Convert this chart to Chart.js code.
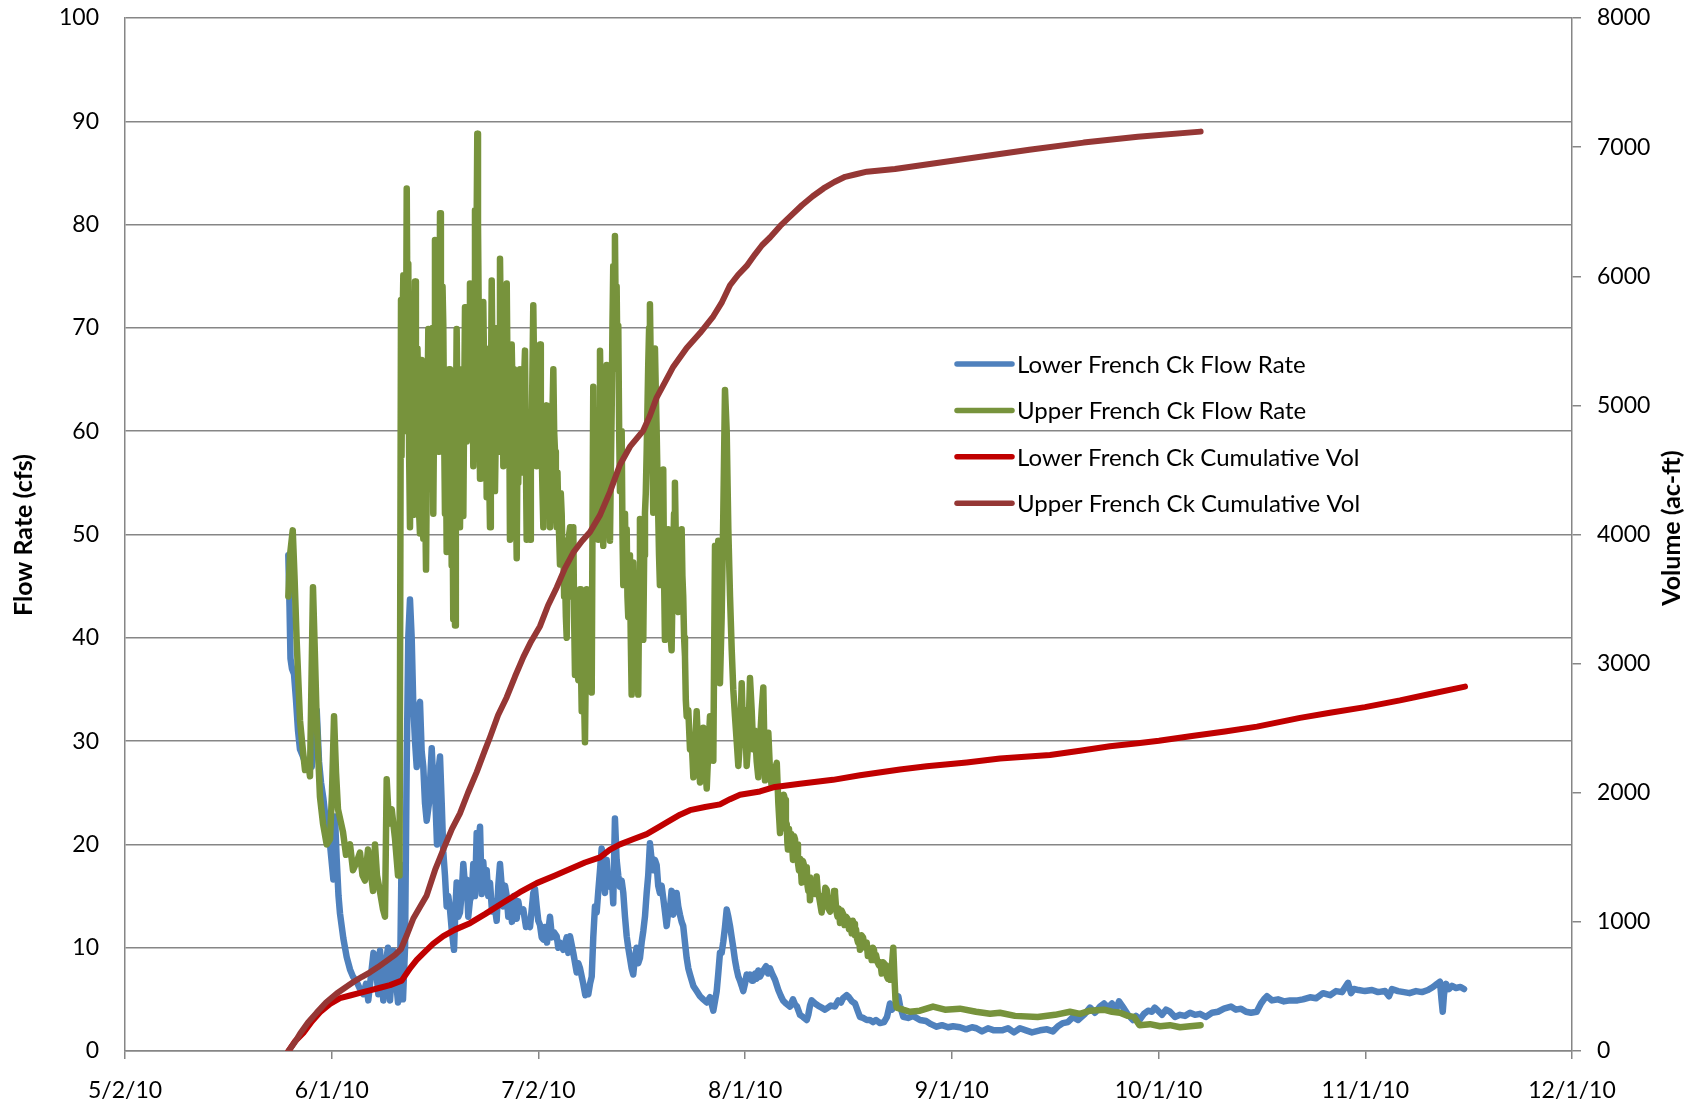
<!DOCTYPE html>
<html>
<head>
<meta charset="utf-8">
<title>French Creek Flow Rate and Cumulative Volume, 2010</title>
<script src="https://cdn.jsdelivr.net/npm/chart.js@4.4.1/dist/chart.umd.min.js"></script>
<style>
  html, body { margin: 0; padding: 0; background: #ffffff; }
  #wrap { width: 1699px; height: 1111px; position: relative; }
</style>
</head>
<body>
<div id="wrap"><canvas id="chart" width="1699" height="1111"></canvas></div>
<script>
// Date axis: days since 5/2/10, labelled every 213/7 days
const xTickLabels = ['5/2/10', '6/1/10', '7/2/10', '8/1/10', '9/1/10', '10/1/10', '11/1/10', '12/1/10'];
const xMaxDays = 213;

const seriesNames = [
  'Lower French Ck Flow Rate',
  'Upper French Ck Flow Rate',
  'Lower French Ck Cumulative Vol',
  'Upper French Ck Cumulative Vol'
];

// Lower French Ck flow rate, [day, cfs]
const lowerFlow = [
  [24.04,48],[24.22,43],[24.36,38],[24.58,37],[24.88,36.5],[25.17,34],[25.47,31],[25.76,29.2],[26.20,28.5],[26.75,27.5],
  [27.08,28],[27.48,27.5],[27.82,31],[28.22,33],[28.56,28],[28.85,26],[29.19,24.5],[29.69,21.5],[30.18,20],[30.67,16.6],
  [30.91,22.7],[31.16,18.6],[31.43,15],[31.65,13.3],[32.14,10.9],[32.63,9.1],[33.12,7.9],[33.56,7.2],[34.11,6.7],[34.59,6],
  [35.08,5.5],[35.48,6.5],[35.81,4.9],[36.31,7.9],[36.58,9.5],[36.80,9.1],[37.29,5.5],[37.54,9.7],[38.02,4.9],[38.52,9.1],
  [38.71,10],[39.01,4.9],[39.49,9.7],[39.99,6.1],[40.19,4.7],[40.48,6.7],[40.70,18],[40.92,5],[41.22,10],[41.47,28],
  [41.70,40],[41.95,43.7],[42.20,40],[42.44,33.4],[42.69,30],[42.94,27.5],[43.17,33],[43.42,33.8],[43.67,29],[43.91,27.5],
  [44.16,24],[44.41,22.3],[44.75,24],[45.15,29.3],[45.38,26],[45.63,25.3],[45.93,20],[46.12,27],[46.37,28.5],[46.62,24],
  [46.85,19.3],[47.10,17],[47.35,14],[47.59,15],[47.84,13.7],[48.13,11.5],[48.43,9.8],[48.65,14],[48.82,16.3],[49.06,13],
  [49.31,13.4],[49.56,15.3],[49.80,18.1],[50.05,16],[50.30,16.6],[50.53,13],[50.78,14.6],[51.03,15],[51.27,18.1],[51.52,15],
  [51.77,21.1],[52.01,20],[52.26,21.7],[52.51,15.2],[52.74,18.3],[52.99,16],[53.24,17.5],[53.48,15],[53.73,16.3],[54.03,13.5],
  [54.32,14.5],[54.71,12.6],[54.95,16],[55.20,18.1],[55.45,16],[55.69,14],[55.94,16],[56.19,15],[56.42,13],[56.67,14.5],
  [56.96,12.5],[57.26,15],[57.66,12.8],[57.89,14.5],[58.14,13.5],[58.63,13.7],[59.03,12],[59.37,12.5],[59.62,12],[60.10,15.3],
  [60.35,15.7],[60.60,14],[60.84,12.6],[61.09,12.2],[61.34,11],[61.58,10.8],[61.82,12],[62.12,10.5],[62.56,13],[62.85,11],
  [63.15,11.5],[63.55,11.1],[63.78,10],[64.03,10.5],[64.52,9.8],[65.02,11],[65.26,9.5],[65.51,11.1],[65.99,9.5],[66.49,7.6],
  [66.73,8.5],[66.98,8],[67.46,6.5],[67.76,5.4],[67.96,5.7],[68.20,5.5],[68.45,6.5],[68.70,7.2],[68.93,11],[69.18,14],
  [69.43,13.4],[69.67,15.5],[69.92,17.5],[70.17,19.6],[70.40,18.7],[70.65,15.3],[70.90,18.5],[71.14,16],[71.39,15.9],[71.64,17],
  [71.87,14.3],[72.12,22.5],[72.37,18.5],[72.61,17],[72.86,15.9],[73.11,16.5],[73.35,15.3],[73.60,13],[73.85,11.1],[74.08,10],
  [74.33,9],[74.58,8],[74.81,7.4],[75.06,9],[75.31,10],[75.55,8.5],[75.80,9],[76.05,10.5],[76.29,11.6],[76.54,13],
  [76.79,15.3],[77.02,17],[77.27,20.1],[77.52,18.5],[77.76,17.5],[78.01,18.5],[78.26,18],[78.49,16],[78.74,15.3],[78.99,16],
  [79.23,14.8],[79.48,13.5],[79.73,12.1],[79.96,13.5],[80.21,13.7],[80.46,15.5],[80.70,13.2],[80.95,14],[81.20,15.3],[81.44,14],
  [81.69,13.2],[81.94,12.5],[82.17,12.1],[82.43,10.5],[82.68,9],[82.92,8],[83.17,7.4],[83.66,6.3],[84.15,5.8],[84.64,5.3],
  [85.12,5],[85.63,4.7],[86.11,5.2],[86.60,3.9],[87.10,5.8],[87.33,7.5],[87.58,9.5],[87.83,9.5],[88.07,10.6],[88.32,12],
  [88.57,13.7],[88.81,13],[89.06,12.1],[89.31,11],[89.54,10],[89.79,8.8],[90.04,7.9],[90.28,7.2],[90.53,6.8],[90.78,6.3],
  [91.01,5.8],[91.26,6.5],[91.51,7.4],[91.75,7],[92.00,7.4],[92.25,6.8],[92.48,6.8],[92.74,7.5],[92.99,7],[93.22,7.8],
  [93.47,7.2],[93.96,7.8],[94.36,8.2],[94.66,7.5],[94.95,8],[95.24,7.5],[95.68,6.9],[96.17,5.9],[96.56,5.3],[96.86,4.9],
  [97.30,4.6],[97.89,4.3],[98.33,5],[98.63,4.5],[98.92,4.3],[99.36,3.5],[99.80,3.3],[100.35,3.0],[100.58,3.5],[100.83,4.4],
  [101.08,4.9],[101.57,4.6],[102.01,4.4],[102.55,4.2],[103.04,4.0],[103.48,4.2],[103.92,4.4],[104.51,4.3],[105.00,4.9],[105.40,4.7],
  [105.69,5.1],[106.23,5.4],[106.57,5.2],[107.01,4.8],[107.46,4.6],[107.90,3.8],[108.19,3.3],[108.64,3.2],[109.18,3.0],[109.66,3.0],
  [110.11,2.8],[110.55,3.0],[111.14,2.7],[111.73,2.8],[112.17,3.3],[112.61,4.6],[112.91,4.0],[113.20,4.4],[113.49,4.6],[113.83,5.3],
  [114.08,4.4],[114.57,3.3],[115.26,3.2],[115.99,3.4],[117.02,3.0],[117.91,2.9],[118.64,2.6],[119.48,2.35],[120.26,2.5],[121.15,2.3],
  [121.88,2.4],[122.91,2.3],[123.80,2.1],[124.68,2.3],[125.33,2.2],[126.15,1.9],[127.03,2.2],[127.92,2.0],[129.09,2.0],[129.98,2.2],
  [130.86,1.8],[131.74,2.2],[132.63,2.0],[133.51,1.8],[134.69,2.0],[135.72,2.1],[136.59,1.9],[137.34,2.4],[138.07,2.7],[138.81,2.8],
  [139.55,3.3],[140.28,3.0],[141.31,3.6],[142.05,4.2],[142.78,3.7],[143.52,4.3],[144.11,4.6],[144.70,4.2],[145.29,4.6],[145.88,4.0],
  [146.32,4.8],[147.06,4.1],[147.64,3.5],[148.38,3.0],[148.82,3.4],[149.33,3.0],[149.99,3.6],[150.59,3.9],[151.17,3.8],[151.58,4.2],
  [152.06,3.9],[152.65,3.5],[153.24,4.0],[153.82,3.8],[154.56,3.3],[155.30,3.5],[156.03,3.4],[156.77,3.7],[157.50,3.5],[158.24,3.6],
  [159.08,3.3],[160.01,3.7],[160.89,3.8],[161.77,4.1],[162.80,4.3],[163.54,4.0],[164.28,4.1],[165.01,3.8],[165.75,3.7],[166.59,3.8],
  [167.22,4.6],[167.66,5.0],[168.10,5.3],[168.84,4.9],[169.72,5.0],[170.60,4.8],[171.49,4.9],[172.59,4.9],[173.40,5.0],[174.43,5.2],
  [175.32,5.1],[176.35,5.6],[177.38,5.4],[178.26,5.8],[179.14,5.7],[180.03,6.6],[180.47,5.6],[180.91,6.0],[181.59,5.9],[182.53,5.8],
  [183.56,5.9],[184.44,5.7],[185.47,5.8],[186.06,5.3],[186.50,6.0],[187.39,5.8],[188.27,5.7],[189.09,5.6],[190.04,5.8],[190.92,5.7],
  [191.80,5.9],[192.54,6.2],[193.13,6.5],[193.57,6.7],[193.79,5.0],[193.97,3.8],[194.16,5.5],[194.46,6.5],[194.90,6.0],[195.34,6.3],
  [195.93,6.1],[196.59,6.2],[197.10,6.0]
];

// Upper French Ck flow rate, [day, cfs]
const upperFlow = [
  [24.04,44],[24.29,48],[24.69,50.4],[24.95,46],[25.27,39.7],[25.76,32],[26.20,29],[26.50,27.2],[26.94,28],[27.23,26.6],
  [27.67,44.9],[27.97,38],[28.22,32],[28.70,24.6],[29.15,22],[29.69,20],[30.18,20.5],[30.47,25],[30.77,32.4],[31.06,27],
  [31.35,23.4],[32.09,21.2],[32.53,19],[33.12,20],[33.56,17.5],[34.11,18.3],[34.59,19.2],[34.96,17],[35.33,16.5],[35.77,19.5],
  [36.06,18],[36.51,15.5],[36.80,20],[37.09,17],[37.54,15.4],[37.98,13.7],[38.27,13],[38.52,26.3],[38.86,22],[39.26,23.4],
  [39.74,20.6],[40.19,17],[40.41,17],
  [40.63,72.7],[40.68,58],[40.73,57.6],[40.85,70],[40.97,75.1],[41.10,60],[41.22,72],[41.35,64],[41.47,83.5],[41.58,70],
  [41.70,76.2],[41.82,58],[41.95,50.7],[42.08,62],[42.20,69.9],[42.32,56],[42.44,51.9],[42.57,66],[42.69,74.5],[42.82,60],
  [42.94,55.4],[43.05,68],[43.17,64],[43.30,52],[43.42,50.1],[43.55,60],[43.67,66.9],[43.79,54],[43.91,49.6],[44.10,58],
  [44.31,46.6],[44.48,60],[44.65,69.9],[44.78,58],[44.90,55],[45.02,66],[45.15,61.2],[45.26,70],[45.38,52],[45.50,62],
  [45.63,78.5],[45.78,64],[45.93,60],[46.04,72],[46.15,70],[46.26,58],[46.37,81.1],[46.50,68],[46.62,65],[46.74,74],
  [46.85,70.4],[46.98,60],[47.10,52],[47.22,62],[47.35,48.3],[47.47,62],[47.59,58],[47.72,66],[47.84,54.2],[47.96,60],
  [48.09,47],[48.20,55],[48.32,41.8],[48.45,50],[48.58,41.2],[48.70,60],[48.82,69.9],[48.94,62],[49.06,58],[49.18,66],
  [49.31,50.7],[49.43,58],[49.56,64],[49.68,56],[49.80,51.8],[49.92,62],[50.05,72],[50.17,64],[50.30,59],[50.41,70],
  [50.53,66],[50.65,60],[50.78,74.3],[50.90,66],[51.03,62],[51.15,70],[51.27,56.6],[51.40,66],[51.52,81.4],[51.69,74],
  [51.86,88.8],[51.96,80],[52.06,72],[52.16,62],[52.26,55.4],[52.38,66],[52.51,64],[52.62,58],[52.74,72.5],[52.86,66],
  [52.99,60],[53.11,68],[53.24,53.6],[53.36,60],[53.48,62],[53.60,56],[53.73,50.7],[53.85,62],[53.98,74.6],[54.10,66],
  [54.21,62],[54.33,70],[54.46,54.2],[54.58,60],[54.71,65],[54.83,60],[54.95,58],[55.07,66],[55.20,76.7],[55.32,70],
  [55.45,64],[55.57,72],[55.69,56.6],[55.81,64],[55.94,62],[56.06,68],[56.19,74.3],[56.30,66],[56.42,60],[56.54,64],
  [56.67,49.5],[56.80,58],[56.92,68.4],[57.04,64],[57.16,58],[57.28,66],[57.41,62],[57.53,54],[57.66,47.7],[57.77,58],
  [57.89,55],[58.01,62],[58.14,66],[58.32,60],[58.51,56],[58.70,64],[58.88,67.8],[59.00,58],[59.13,49.5],[59.25,56],
  [59.37,58],[59.50,54],[59.62,49.5],[59.74,56],[59.87,60],[59.98,66],[60.10,72.2],[60.22,66],[60.35,62],[60.47,68],
  [60.60,56.6],[60.72,62],[60.84,60],[60.96,64],[61.09,68.4],[61.21,62],[61.34,58],[61.46,54],[61.58,50.7],[61.70,60],
  [61.82,56],[61.94,60],[62.07,62.5],[62.19,58],[62.31,55],[62.43,60],[62.56,50.7],[62.68,54],[62.81,58],[62.93,62],
  [63.05,66],[63.17,60],[63.30,58],[63.42,54],[63.55,50.7],[63.66,56],[63.78,52],[63.90,50],[64.03,47.1],[64.15,54],
  [64.28,52],[64.40,48],[64.52,49.5],[64.64,44],[64.77,46],[64.90,42],[65.02,40],[65.14,48],[65.26,45],[65.38,50],
  [65.51,50.7],[65.63,44],[65.75,46],[65.87,48],[65.99,50.7],[66.11,42],[66.24,36.4],[66.36,44],[66.49,42],[66.61,38],
  [66.73,35.9],[66.85,40],[66.98,44.7],[67.10,38],[67.23,32.9],[67.35,40],[67.46,38],[67.58,34],[67.71,29.9],[67.84,38],
  [67.96,44.7],[68.08,40],[68.20,38],[68.32,44],[68.45,42],[68.57,38],[68.70,34.7],[68.81,50],[68.93,64.3],[69.05,56],
  [69.18,55],[69.30,62],[69.43,60],[69.55,54],[69.67,49.5],[69.80,60],[69.92,67.8],[70.04,62],[70.17,58],[70.28,52],
  [70.40,48.9],[70.52,54],[70.65,58],[70.78,62],[70.90,66.4],[71.02,60],[71.14,55],[71.26,52],[71.39,49.4],[71.51,56],
  [71.64,62],[71.75,70],[71.87,76],[72.00,72],[72.12,78.9],[72.25,70],[72.37,74],[72.49,66],[72.61,70.2],[72.74,60],
  [72.86,54.2],[72.98,58],[73.11,60],[73.23,50],[73.35,45.1],[73.47,50],[73.60,52],[73.72,46],[73.85,50.5],[73.96,44],
  [74.08,42],[74.20,48],[74.33,46],[74.45,40],[74.58,34.5],[74.70,42],[74.81,47.3],[74.94,44],[75.06,42],[75.18,40],
  [75.31,37.2],[75.43,40],[75.55,34.5],[75.68,44],[75.80,51.5],[75.92,48],[76.05,45],[76.17,42],[76.29,39.8],[76.42,48],
  [76.54,52.1],[76.66,54],[76.79,58],[76.90,62],[77.02,66.4],[77.15,70],[77.27,72.3],[77.40,66],[77.52,62],[77.64,58],
  [77.76,52.1],[77.89,62],[78.01,68],[78.13,64],[78.26,60],[78.37,56],[78.49,52],[78.61,48],[78.74,45.1],[78.86,48],
  [78.99,50],[79.11,54],[79.23,56.3],[79.35,46],[79.48,39.8],[79.60,44],[79.73,46],[79.84,48],[79.96,50.5],[80.08,46],
  [80.21,44],[80.33,40],[80.46,38.8],[80.58,44],[80.70,48],[80.82,52],[80.95,55],[81.07,50],[81.20,48],[81.32,44],
  [81.44,42.5],[81.56,44],[81.69,46],[81.81,48],[81.94,50.5],[82.05,46],[82.17,44],[82.30,40],[82.43,38.2],[82.55,34],
  [82.68,32.4],[82.92,33],[83.17,29.2],[83.42,30],[83.66,26.5],[83.90,29],[84.15,32.9],[84.39,29],[84.64,26],[84.89,28],
  [85.12,31.3],[85.37,28],[85.63,25.4],[85.86,29],[86.11,32.4],[86.36,30],[86.60,28.1],[86.85,48.9],[87.10,45],[87.33,49.4],
  [87.58,35.6],[87.83,42],[88.07,52],[88.32,64],[88.57,60],[88.81,50.5],[89.06,44],[89.31,38.8],[89.54,35],[89.79,32.4],
  [90.04,30],[90.28,27.6],[90.53,30],[90.78,35.6],[91.01,30],[91.26,33],[91.51,27.6],[91.75,30],[92.00,36.1],[92.25,33],
  [92.48,29.2],[92.74,31],[92.99,28],[93.22,26.5],[93.47,30],[93.72,33],[93.96,35.2],[94.21,26.2],[94.46,28],[94.70,30.8],
  [94.95,27],[95.20,25.6],[95.54,27],[95.94,27.9],
  [96.17,24],[96.30,22.5],[96.42,21.1],[96.60,23.5],[96.79,22],[96.98,24.8],[97.16,24.3],[97.28,21.5],[97.41,22],[97.50,20.2],
  [97.59,19.5],[97.74,21.5],[97.89,20],[98.10,21],[98.33,18.5],[98.48,20.8],[98.63,20.5],[98.78,18.8],[98.92,20],[99.06,18.2],
  [99.21,17.5],[99.41,18.6],[99.61,16.3],[99.78,18.4],[99.95,18],[100.15,16.5],[100.35,17.8],[100.47,16],[100.58,15.5],[100.70,16.8],
  [100.83,14.6],[101.07,16.4],[101.32,16],[101.56,15.2],[101.81,16.9],[101.98,15.3],[102.15,15],[102.35,14.2],[102.55,13.4],[102.72,15],
  [102.89,14.5],[103.09,15.8],[103.29,15.6],[103.53,13.8],[103.78,13.5],[104.00,14.8],[104.22,14],[104.37,15.5],[104.51,15.3],[104.70,13.6],
  [104.88,13],[105.06,13.8],[105.25,12.4],[105.47,13.6],[105.69,13.3],[105.91,12.2],[106.13,13],[106.35,12.8],[106.57,11.8],[106.77,12.4],
  [106.97,11.4],[107.14,12.6],[107.31,12.3],[107.45,11.2],[107.60,11.8],[107.75,10.9],[107.90,10.5],[108.05,10.9],[108.19,9.8],[108.42,11.2],
  [108.64,11],[108.91,10],[109.18,10.5],[109.35,9.2],[109.52,9.5],[109.72,9.8],[109.91,8.8],[110.08,10],[110.25,9.8],[110.40,8.8],
  [110.55,9.3],[110.77,8.6],[110.99,8.3],[111.19,8.6],[111.39,7.5],[111.56,8.6],[111.73,8.5],[111.88,7.6],[112.02,8.3],[112.16,7.2],
  [112.31,7],[112.46,7.6],[112.61,6.9],[112.86,8],[113.09,10],[113.27,7],[113.42,4.9],[113.59,4.2],[114.52,4.0],[115.55,3.8],
  [117.02,3.9],[118.94,4.3],[120.70,4.0],[122.91,4.1],[125.27,3.8],[127.33,3.6],[128.80,3.7],[131.01,3.4],[134.34,3.3],[136.90,3.5],
  [139.10,3.8],[140.58,3.6],[142.05,3.9],[144.08,4.0],[145.29,3.8],[146.46,3.7],[147.64,3.4],[148.52,3.3],[149.33,2.5],[150.88,2.6],
  [152.35,2.4],[153.82,2.5],[155.30,2.3],[156.77,2.4],[158.33,2.5]
];

// Lower French Ck cumulative volume, [day, ac-ft]
const lowerVolume = [
  [24.07,0],[25.02,75],[26.25,140],[27.53,230],[28.70,300],[30.18,365],[31.65,410],[33.12,430],[34.59,450],[36.06,470],
  [37.54,490],[39.01,510],[40.73,545],[41.95,640],[42.94,705],[44.16,770],[45.34,830],[46.85,890],[48.58,940],[50.78,990],
  [52.99,1060],[55.69,1150],[58.14,1230],[60.60,1300],[63.30,1360],[65.50,1410],[67.71,1460],[69.92,1500],[71.39,1560],[72.86,1600],
  [74.78,1640],[76.79,1680],[78.75,1740],[79.74,1770],[81.70,1830],[83.17,1865],[85.38,1890],[87.58,1910],[89.06,1950],[90.53,1985],
  [93.47,2010],[95.68,2045],[99.36,2070],[104.22,2100],[108.19,2135],[114.08,2180],[118.01,2205],[123.90,2235],[128.80,2265],[136.16,2292],
  [140.58,2325],[144.99,2360],[149.41,2385],[152.20,2402],[157.06,2440],[161.92,2475],[166.63,2512],[172.96,2580],[177.38,2620],[182.53,2663],
  [187.68,2715],[192.10,2765],[197.25,2822]
];

// Upper French Ck cumulative volume, [day, ac-ft]
const upperVolume = [
  [24.07,0],[25.02,70],[25.76,133],[26.94,220],[28.22,297],[29.59,375],[31.16,445],[32.38,490],[33.61,534],[34.89,575],
  [36.06,609],[37.24,650],[38.52,698],[39.74,745],[40.63,790],[41.51,900],[42.44,1026],[43.42,1115],[44.41,1205],[45.63,1400],
  [46.85,1560],[48.13,1720],[49.31,1840],[50.49,2000],[51.77,2160],[52.99,2330],[53.73,2430],[54.91,2600],[56.19,2740],[57.41,2900],
  [58.63,3050],[59.76,3170],[61.09,3290],[62.27,3450],[63.55,3590],[64.77,3740],[65.99,3860],[67.27,3950],[68.45,4020],[69.92,4150],
  [71.39,4330],[72.86,4540],[74.33,4680],[76.29,4805],[77.27,4920],[78.26,5060],[79.49,5180],[80.71,5300],[82.68,5445],[84.64,5560],
  [86.60,5690],[87.88,5800],[89.06,5930],[90.23,6010],[91.51,6080],[92.74,6170],[93.77,6240],[94.94,6300],[96.45,6390],[98.03,6470],
  [99.64,6550],[101.23,6620],[102.82,6680],[104.42,6730],[106.01,6770],[107.60,6790],[109.21,6810],[113.34,6830],[125.15,6920],[133.12,6980],
  [141.11,7035],[149.09,7080],[158.33,7120]
];

const seriesColors = ['#4F81BD', '#77933C', '#C00000', '#953735'];
const gridColor = '#868686';

const toPoints = rows => rows.map(([x, y]) => ({ x, y }));

// Axis titles, both reading bottom-to-top
const axisTitles = {
  id: 'axisTitles',
  afterDraw(chart, args, opts) {
    const ctx = chart.ctx;
    ctx.save();
    ctx.font = opts.font;
    ctx.fillStyle = opts.color;
    ctx.textAlign = 'center';
    ctx.textBaseline = 'middle';
    for (const t of opts.items) {
      ctx.save();
      ctx.translate(t.x, t.y);
      ctx.rotate(-Math.PI / 2);
      ctx.fillText(t.text, 0, 0);
      ctx.restore();
    }
    ctx.restore();
  }
};

// Legend box drawn inside the plot area
const insideLegend = {
  id: 'insideLegend',
  afterDatasetsDraw(chart, args, opts) {
    const ctx = chart.ctx;
    ctx.save();
    ctx.font = opts.font;
    ctx.fillStyle = opts.color;
    ctx.textAlign = 'left';
    ctx.textBaseline = 'middle';
    ctx.lineCap = 'round';
    chart.data.datasets.forEach((ds, i) => {
      const y = opts.top + i * opts.rowGap;
      ctx.strokeStyle = ds.borderColor;
      ctx.lineWidth = opts.sampleWidth;
      ctx.beginPath();
      ctx.moveTo(opts.left, y);
      ctx.lineTo(opts.left + opts.sampleLength, y);
      ctx.stroke();
      ctx.fillText(ds.label, opts.left + opts.sampleLength + opts.textGap, y + 1);
    });
    ctx.restore();
  }
};

function lineSet(label, rows, color, axis, order, width) {
  return {
    label,
    data: toPoints(rows),
    borderColor: color,
    backgroundColor: color,
    borderWidth: width,
    pointRadius: 0,
    tension: 0,
    fill: false,
    yAxisID: axis,
    order,
    borderJoinStyle: 'round',
    borderCapStyle: 'round'
  };
}

// Keep the plot box fixed: no extra room reserved for overhanging labels
const noOverhang = s => { s.paddingTop = 0; s.paddingBottom = 0; s.paddingLeft = 0; s.paddingRight = 0; };

function build() {
  Chart.defaults.font.family = 'Lato, "Open Sans", sans-serif';
  Chart.defaults.color = '#000000';

  new Chart(document.getElementById('chart'), {
    type: 'line',
    data: {
      datasets: [
        lineSet(seriesNames[0], lowerFlow, seriesColors[0], 'y', 3, 6.5),
        lineSet(seriesNames[1], upperFlow, seriesColors[1], 'y', 2, 6.5),
        lineSet(seriesNames[2], lowerVolume, seriesColors[2], 'y2', 1, 6),
        lineSet(seriesNames[3], upperVolume, seriesColors[3], 'y2', 0, 6)
      ]
    },
    options: {
      responsive: false,
      animation: false,
      devicePixelRatio: 1,
      events: [],
      layout: { padding: { top: 18, left: 0, right: 0, bottom: 0 } },
      scales: {
        x: {
          type: 'linear',
          min: 0,
          max: xMaxDays,
          afterBuildTicks: s => {
            s.ticks = xTickLabels.map((_, i) => ({ value: i * xMaxDays / (xTickLabels.length - 1) }));
          },
          afterFit: s => { s.height = 60; noOverhang(s); },
          ticks: {
            autoSkip: false,
            maxRotation: 0,
            padding: 18,
            font: { size: 23 },
            color: '#000000',
            callback: (v, i) => xTickLabels[i]
          },
          grid: { drawOnChartArea: false, drawTicks: true, tickLength: 8, color: gridColor, lineWidth: 1.5 },
          border: { display: true, color: gridColor, width: 1.5 }
        },
        y: {
          position: 'left',
          min: 0,
          max: 100,
          afterFit: s => { s.width = 125; noOverhang(s); },
          ticks: { stepSize: 10, padding: 26, font: { size: 23 }, color: '#000000' },
          grid: { color: gridColor, lineWidth: 1.5, drawTicks: false },
          border: { display: true, color: gridColor, width: 1.5 }
        },
        y2: {
          position: 'right',
          min: 0,
          max: 8000,
          afterFit: s => { s.width = 127; noOverhang(s); },
          ticks: { stepSize: 1000, padding: 16, font: { size: 23 }, color: '#000000', callback: v => String(v) },
          grid: { drawOnChartArea: false, drawTicks: true, tickLength: 9, color: gridColor, lineWidth: 1.5 },
          border: { display: true, color: gridColor, width: 1.5 }
        }
      },
      plugins: {
        legend: { display: false },
        tooltip: { enabled: false },
        axisTitles: {
          font: 'bold 25px Lato, "Open Sans", sans-serif',
          color: '#000000',
          items: [
            { text: 'Flow Rate (cfs)', x: 24, y: 535 },
            { text: 'Volume (ac-ft)', x: 1672, y: 528 }
          ]
        },
        insideLegend: {
          font: '24px Lato, "Open Sans", sans-serif',
          color: '#000000',
          left: 957,
          top: 364,
          rowGap: 46.4,
          sampleLength: 55,
          sampleWidth: 5.5,
          textGap: 5
        }
      }
    },
    plugins: [axisTitles, insideLegend]
  });
}

if (document.fonts && document.fonts.load) {
  Promise.all([document.fonts.load('23px Lato'), document.fonts.load('bold 25px Lato')]).then(build, build);
} else {
  build();
}
</script>
</body>
</html>
